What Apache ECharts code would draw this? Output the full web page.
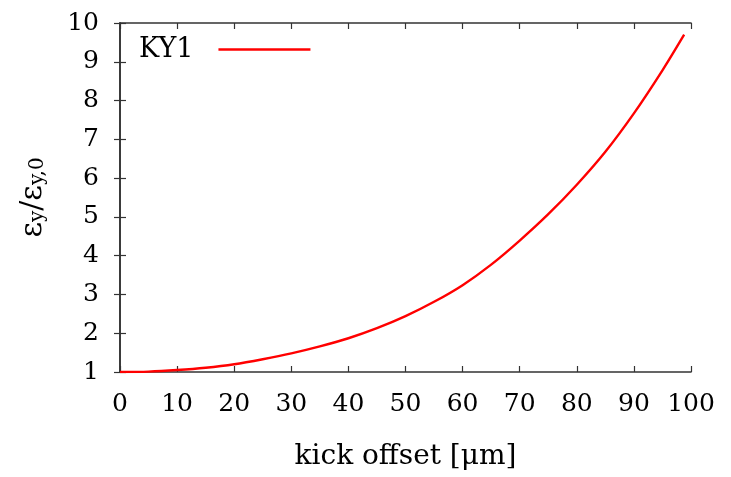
<!DOCTYPE html>
<html>
<head>
<meta charset="utf-8">
<script src="https://cdn.jsdelivr.net/npm/echarts@6/dist/echarts.min.js"></script>
<style>
  html, body { margin: 0; padding: 0; background: #fff; }
  #chart { width: 731px; height: 477px; }
</style>
</head>
<body>
<div id="chart"></div>
<script>
// Vertical emittance growth versus kick offset
const kickOffset = [0, 5, 10, 15, 20, 25, 30, 35, 40, 45, 50, 55, 60, 65, 70, 75, 80, 85, 90, 95, 98.8];
const emitRatio  = [1.00, 1.01, 1.05, 1.11, 1.20, 1.33, 1.48, 1.66, 1.87, 2.13, 2.44, 2.81, 3.24, 3.77, 4.39, 5.07, 5.83, 6.68, 7.67, 8.78, 9.70];
const seriesName = 'KY1';
const xTitle = 'kick offset [\u03bcm]';

const FONT = '"DejaVu Serif", "Liberation Serif", serif';
const AXIS_COLOR = '#333';

const points = kickOffset.map((x, i) => [x, emitRatio[i]]);

const chart = echarts.init(document.getElementById('chart'), null, { renderer: 'canvas' });

const frameAxis = {
  axisLine: { show: true, lineStyle: { color: AXIS_COLOR, width: 1.6 } },
  axisTick: { show: true, inside: true, length: 6, lineStyle: { color: AXIS_COLOR, width: 1.2 } },
  splitLine: { show: false }
};

chart.setOption({
  animation: false,
  backgroundColor: '#fff',
  grid: { left: 120, right: 40, top: 23, bottom: 105, containLabel: false },
  legend: {
    left: 134, top: 31,
    align: 'right',
    itemWidth: 92, itemHeight: 2.5,
    icon: 'rect',
    textStyle: { fontFamily: FONT, fontSize: 27, color: '#000', padding: [0, 20, 0, 0] },
    data: [seriesName]
  },
  xAxis: [
    Object.assign({
      type: 'value', min: 0, max: 100, interval: 10, position: 'bottom',
      axisLabel: { fontFamily: FONT, fontSize: 25, color: '#000', margin: 20 },
      name: xTitle, nameLocation: 'middle', nameGap: 71,
      nameTextStyle: { fontFamily: FONT, fontSize: 28, color: '#000' }
    }, frameAxis),
    Object.assign({
      type: 'value', min: 0, max: 100, interval: 10, position: 'top',
      axisLabel: { show: false }
    }, frameAxis)
  ],
  yAxis: [
    Object.assign({
      type: 'value', min: 1, max: 10, interval: 1, position: 'left',
      axisLabel: { fontFamily: FONT, fontSize: 25, color: '#000', margin: 21 },
      name: '{e|\u03b5}{s|y}{e|/\u03b5}{s|y,0}',
      nameLocation: 'middle', nameGap: 72, nameRotate: 90,
      nameTextStyle: {
        fontFamily: FONT, color: '#000',
        rich: {
          e: { fontFamily: FONT, fontSize: 30, color: '#000', verticalAlign: 'bottom' },
          s: { fontFamily: FONT, fontSize: 20, color: '#000', padding: [12, 0, 0, 0], verticalAlign: 'bottom' }
        }
      }
    }, frameAxis),
    Object.assign({
      type: 'value', min: 1, max: 10, interval: 1, position: 'right',
      axisLabel: { show: false }
    }, frameAxis)
  ],
  series: [{
    name: seriesName,
    type: 'line',
    data: points,
    smooth: 0.3,
    symbol: 'none',
    color: '#ff0000',
    lineStyle: { color: '#ff0000', width: 2.4 }
  }]
});
</script>
</body>
</html>
